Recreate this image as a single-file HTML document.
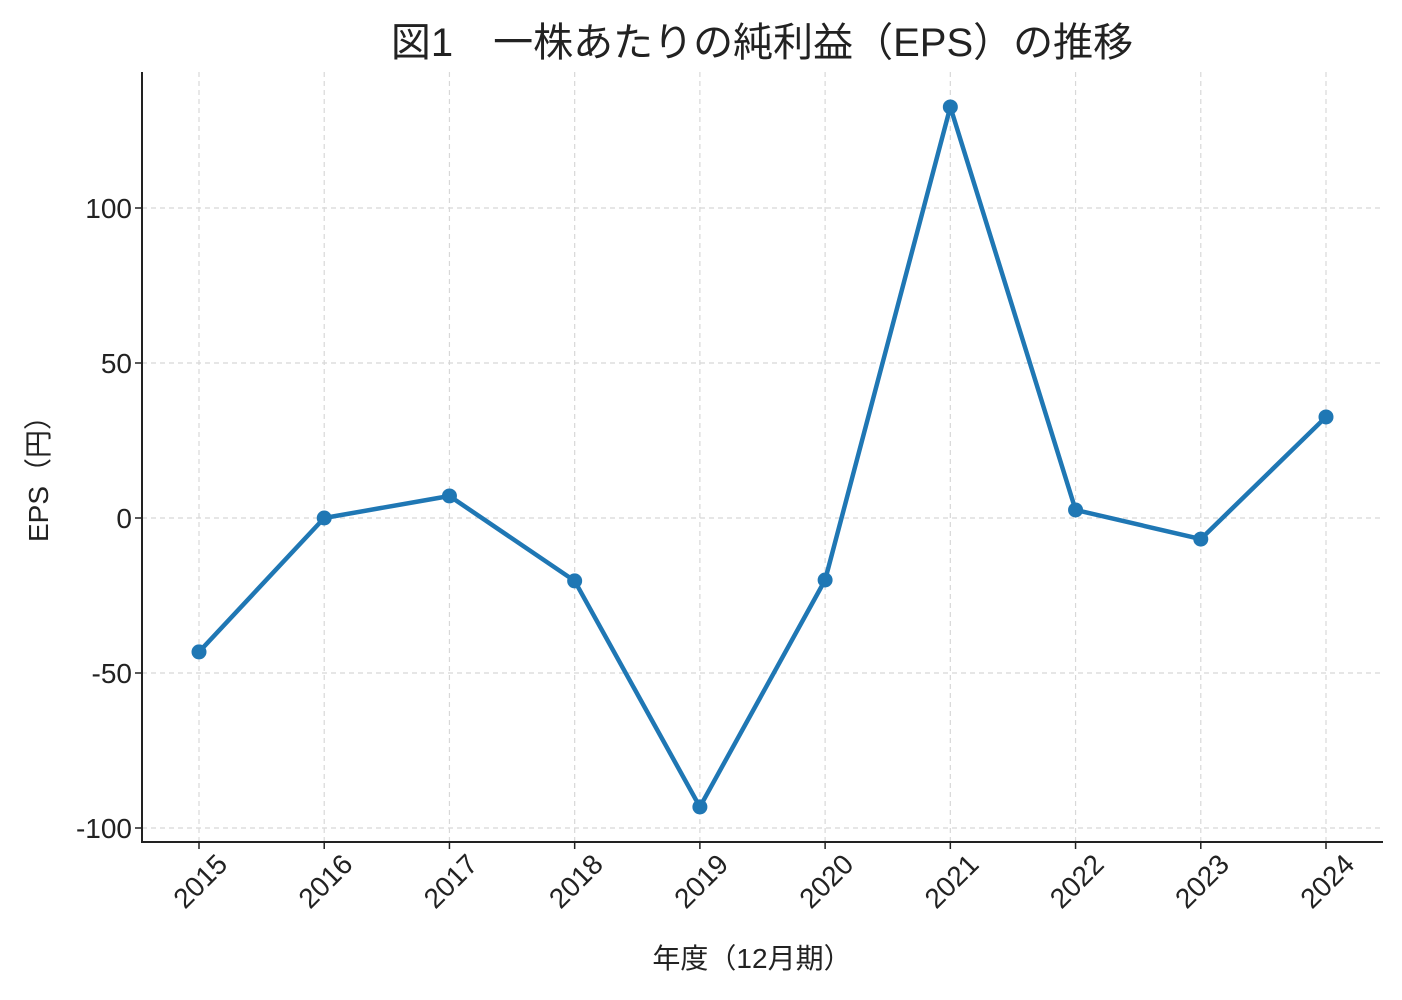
<!DOCTYPE html>
<html><head><meta charset="utf-8"><style>
body{margin:0;background:#fff;}
text{font-family:"Liberation Sans","Noto Sans CJK JP",sans-serif;fill:#222;}
</style></head><body>
<svg id="chart" width="1402" height="995">
<text x="762" y="56" font-size="40" text-anchor="middle">図1　一株あたりの純利益（EPS）の推移</text>
<g id="grid"></g><g id="axes"></g><g id="series"></g>
<text x="752" y="968" font-size="28" text-anchor="middle">年度（12月期）</text>
<text transform="translate(48,472) rotate(-90)" font-size="28" text-anchor="middle">EPS（円）</text>
</svg>
<script>
const years=["2015","2016","2017","2018","2019","2020","2021","2022","2023","2024"];
const eps=[-43.2,0,7.1,-20.3,-93.2,-20,132.6,2.6,-6.8,32.6];
const yTicks=[-100,-50,0,50,100];
const NS="http://www.w3.org/2000/svg";
const L=142,R=1383,T=72,B=842;
const x=i=>199+i*(1326-199)/(years.length-1);
const y=v=>518-v*3.1;
function mk(tag,attrs,parent,txt){const e=document.createElementNS(NS,tag);for(const k in attrs)e.setAttribute(k,attrs[k]);if(txt!==undefined)e.textContent=txt;document.getElementById(parent).appendChild(e);return e;}
yTicks.forEach(v=>{
 let g=mk('line',{x1:L,x2:R,y1:y(v),y2:y(v),stroke:'#d8d8d8','stroke-dasharray':'5,4','stroke-width':1.2},'grid');
 
 
 let t=mk('line',{x1:L-7,x2:L,y1:y(v),y2:y(v),stroke:'#222','stroke-width':1.5},'axes');
 
 
 let l=mk('text',{x:L-10,y:y(v)+10,'font-size':28,'text-anchor':'end'},'axes',String(v));
 
 
});
years.forEach((yr,i)=>{
 let g=mk('line',{x1:x(i),x2:x(i),y1:T,y2:B,stroke:'#d8d8d8','stroke-dasharray':'5,4','stroke-width':1.2},'grid');
 
 
 let t=mk('line',{x1:x(i),x2:x(i),y1:B,y2:B+7,stroke:'#222','stroke-width':1.5},'axes');
 
 
 let l=mk('text',{transform:`translate(${x(i)+30},${B+24}) rotate(-45)`,'font-size':28,'text-anchor':'end'},'axes',yr);
 
 
});
let sp=mk('path',{d:`M${L},${T}V${B}H${R}`,fill:'none',stroke:'#222','stroke-width':2},'axes');


let ln=mk('polyline',{points:eps.map((v,i)=>x(i)+','+y(v)).join(' '),fill:'none',stroke:'#1f77b4','stroke-width':4.5,'stroke-linejoin':'round'},'series');


eps.forEach((v,i)=>{
 let c=mk('circle',{cx:x(i),cy:y(v),r:7.5,fill:'#1f77b4'},'series');
 
 
});
</script>
</body></html>
